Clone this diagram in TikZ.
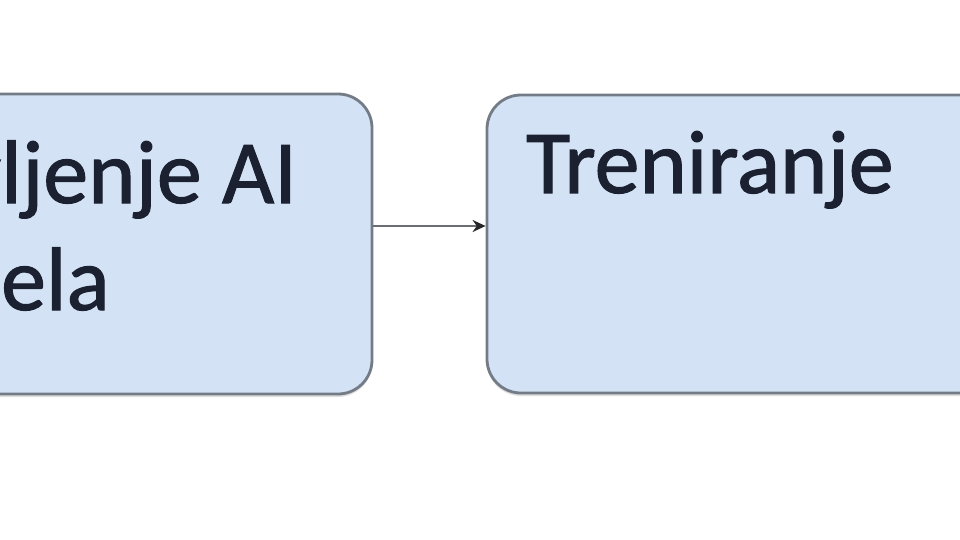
\documentclass[tikz,border=0pt]{standalone}
\usepackage{fontspec}
\setmainfont{Carlito}[FakeBold=1.2]
\usetikzlibrary{arrows.meta,shadows}
\definecolor{boxfill}{HTML}{D3E3F5}
\definecolor{boxline}{HTML}{737C86}
\definecolor{txt}{HTML}{1B2130}
\definecolor{connc}{HTML}{6A6E74}
\begin{document}
\begin{tikzpicture}[x=1pt,y=-1pt,
  procbox/.style={draw=boxline, line width=2.8pt, fill=boxfill, rounded corners=34pt, inner sep=0pt,
    drop shadow={shadow xshift=0pt, shadow yshift=-3pt, opacity=0.25, fill=gray}},
  lbl/.style={font=\fontsize{90}{107}\selectfont, text=txt, anchor=base west, inner sep=0pt, align=left},
  conn/.style={draw=connc, line width=2.4pt, -{Stealth[length=13pt,width=12pt,color=black!85]}}]
\useasboundingbox (0,0) rectangle (960,540);
\fill[white] (0,0) rectangle (960,540);
\clip (0,0) rectangle (960,540);
\node[procbox, minimum width=572pt, minimum height=300pt] (L) at (86,244) {};
\node[procbox, minimum width=713pt, minimum height=298pt] (R) at (843.5,244) {};
\node[lbl] (Lt) at (1,310) {\llap{v}ljenje AI\\\llap{d}ela};
\node[lbl] (Rt) at (526,193) {Treniranje};
\coordinate (ay) at (0,226);
\draw[conn] (L.east |- ay) -- (R.west |- ay);
\end{tikzpicture}
\end{document}
